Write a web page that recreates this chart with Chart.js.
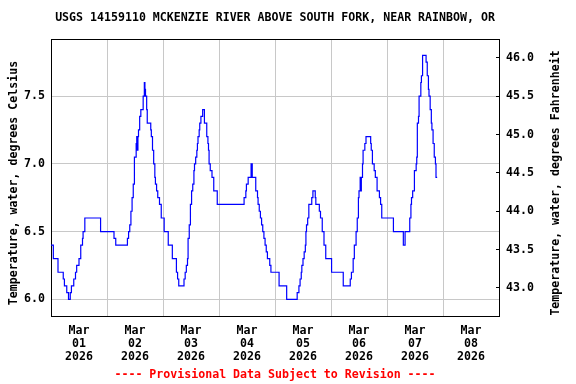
<!DOCTYPE html>
<html lang="en">
<head>
    <meta charset="UTF-8">
    <title>USGS 14159110 water temperature</title>
    <style>
        html, body { margin: 0; padding: 0; background: #fff; }
        canvas { display: block; }
    </style>
</head>
<body>
    <canvas id="temp-chart" width="576" height="384"></canvas>

    <script src="https://cdn.jsdelivr.net/npm/chart.js"></script>
    <script>
        // hours since Mar 01 2026 00:00 where the reading changes, and the new value (deg C)
        const hours = [
            0, 1, 3, 5.25, 5.75, 6.75, 7.5, 8.25, 8.75, 9.75, 10.5, 11, 12, 12.75, 13.5, 13.75, 14.5, 21.25, 27, 27.75,
            32.75, 33.25, 33.75, 34.25, 34.75, 35.25, 35.75, 36.5, 36.75, 37, 37.25, 37.5, 38, 38.5, 39.5, 40, 40.25, 40.5,
            41, 41.25, 42.75, 43, 43.5, 44, 44.5, 44.75, 45.25, 45.75, 46.5, 47.25, 48.5, 50.25, 52, 53.75, 54.25, 54.75,
            57, 57.5, 58, 58.5, 58.75, 59.25, 59.75, 60.25, 60.75, 61.25, 61.5, 62, 62.5, 62.75, 63, 63.5, 63.75, 64.25,
            65, 65.75, 66.75, 67.25, 67.5, 67.75, 68.25, 69, 69.75, 71.25,
            82.75, 83.5, 83.75, 84.5, 85.75, 86.25, 87.75, 88.5, 88.75, 89.25, 89.75, 90.25, 90.75, 91.25, 91.75, 92.25,
            92.75, 93.75, 94.25, 97.75, 101,
            105.5, 106.25, 106.75, 107.25, 107.5, 108, 108.5, 109, 109.25, 109.5, 110, 110.5, 111.75, 112.25, 113.25, 113.5,
            115, 115.5, 116.25, 117, 117.75, 120.25, 125.25,
            128.25, 128.75, 129.5, 130, 130.75, 131.25, 131.75, 132, 132.5, 132.75, 133, 133.5, 133.75, 134.5, 135,
            137, 137.25, 137.75, 138.5, 139, 139.75, 140.75, 141.25, 141.75, 146.75, 151, 151.75,
            153.75, 154.25, 154.5, 155, 155.75, 156.5, 156.75, 157, 157.5, 157.75, 158.5, 158.75, 159.25,
            160.75, 161.25, 161.75, 162, 162.5, 163, 163.25, 163.75, 164.25, 164.75, 165, 165.5
        ];
        const tempC = [
            6.4, 6.3, 6.2, 6.15, 6.1, 6.05, 6.0, 6.05, 6.1, 6.15, 6.2, 6.25, 6.3, 6.4, 6.45, 6.5, 6.6, 6.5, 6.45, 6.4,
            6.45, 6.5, 6.55, 6.65, 6.75, 6.85, 7.05, 7.15, 7.2, 7.1, 7.2, 7.25, 7.35, 7.4, 7.5, 7.6, 7.55, 7.5,
            7.4, 7.3, 7.25, 7.2, 7.1, 7.0, 6.9, 6.85, 6.8, 6.75, 6.7, 6.6, 6.5, 6.4, 6.3, 6.2, 6.15, 6.1,
            6.15, 6.2, 6.25, 6.3, 6.45, 6.55, 6.7, 6.8, 6.85, 6.95, 7.0, 7.05, 7.1, 7.15, 7.2, 7.25, 7.3, 7.35,
            7.4, 7.3, 7.2, 7.15, 7.1, 7.0, 6.95, 6.9, 6.8, 6.7,
            6.75, 6.8, 6.85, 6.9, 7.0, 6.9, 6.8, 6.75, 6.7, 6.65, 6.6, 6.55, 6.5, 6.45, 6.4, 6.35,
            6.3, 6.25, 6.2, 6.1, 6.0,
            6.05, 6.1, 6.15, 6.2, 6.25, 6.3, 6.35, 6.4, 6.5, 6.55, 6.6, 6.7, 6.75, 6.8, 6.75, 6.7,
            6.65, 6.6, 6.5, 6.4, 6.3, 6.2, 6.1,
            6.15, 6.2, 6.3, 6.4, 6.5, 6.6, 6.75, 6.8, 6.9, 6.8, 6.9, 7.0, 7.1, 7.15, 7.2,
            7.15, 7.1, 7.0, 6.95, 6.9, 6.8, 6.75, 6.7, 6.6, 6.5, 6.4, 6.5,
            6.6, 6.7, 6.75, 6.8, 6.95, 7.0, 7.05, 7.3, 7.35, 7.5, 7.6, 7.65, 7.8,
            7.75, 7.65, 7.55, 7.5, 7.4, 7.3, 7.25, 7.15, 7.05, 7.0, 6.9, 6.9
        ];
        const dayLabels = ['01', '02', '03', '04', '05', '06', '07', '08'];
        const monthLabel = 'Mar';
        const yearLabel = '2026';
        const celsiusTicks = [6.0, 6.5, 7.0, 7.5];
        const fahrenheitTicks = [43.0, 43.5, 44.0, 44.5, 45.0, 45.5, 46.0];

        const chartTitle = 'USGS 14159110 MCKENZIE RIVER ABOVE SOUTH FORK, NEAR RAINBOW, OR';
        const footerText = '---- Provisional Data Subject to Revision ----';
        const leftTitle = 'Temperature, water, degrees Celsius';
        const rightTitle = 'Temperature, water, degrees Fahrenheit';

        const FONT = "'DejaVu Sans Mono', monospace";
        const GRID = '#c8c8c8';

        Chart.defaults.font.family = FONT;
        Chart.defaults.font.size = 11.6;
        Chart.defaults.font.weight = 'bold';
        Chart.defaults.color = '#000';

        // top edge of the plot box and the two rotated axis titles (read bottom-to-top)
        const framePlugin = {
            id: 'frame',
            afterDraw(chart) {
                const { ctx, chartArea: a } = chart;
                ctx.save();
                ctx.strokeStyle = '#000';
                ctx.lineWidth = 1;
                ctx.beginPath();
                ctx.moveTo(a.left, Math.floor(a.top) + 0.5);
                ctx.lineTo(a.right + 1, Math.floor(a.top) + 0.5);
                ctx.stroke();

                ctx.font = `bold 11.6px ${FONT}`;
                ctx.fillStyle = '#000';
                ctx.textAlign = 'center';
                ctx.textBaseline = 'middle';
                [[14, leftTitle], [556, rightTitle]].forEach(([x, text]) => {
                    ctx.save();
                    ctx.translate(x, 183);
                    ctx.rotate(-Math.PI / 2);
                    ctx.fillText(text, 0, 0);
                    ctx.restore();
                });
                ctx.restore();
            }
        };

        const ctx = document.getElementById('temp-chart').getContext('2d');
        new Chart(ctx, {
            type: 'line',
            data: {
                datasets: [{
                    data: hours.map((h, i) => ({ x: h, y: tempC[i] })),
                    borderColor: '#0000ff',
                    borderWidth: 1.2,
                    pointRadius: 0,
                    stepped: true,
                    fill: false,
                    yAxisID: 'y',
                }],
            },
            options: {
                responsive: false,
                animation: false,
                layout: { padding: 0 },
                plugins: {
                    legend: { display: false },
                    tooltip: { enabled: false },
                    title: {
                        display: true,
                        text: chartTitle,
                        fullSize: false,
                        color: '#000',
                        font: { size: 11.6, weight: 'bold', lineHeight: '14px' },
                        padding: { top: 11, bottom: 14 },
                    },
                    subtitle: {
                        display: true,
                        position: 'bottom',
                        text: footerText,
                        fullSize: false,
                        color: '#ff0000',
                        font: { size: 11.6, weight: 'bold', lineHeight: '14px' },
                        padding: { top: 0, bottom: 2 },
                    },
                },
                scales: {
                    x: {
                        type: 'linear',
                        min: 0,
                        max: 192,
                        afterFit: (s) => { s.height = 52; },
                        border: { color: '#000', width: 1 },
                        grid: {
                            drawTicks: false,
                            color: (c) => (c.tick && c.tick.value % 24 === 0) ? GRID : 'rgba(0,0,0,0)',
                        },
                        ticks: {
                            stepSize: 12,
                            autoSkip: false,
                            maxRotation: 0,
                            padding: 8,
                            font: { lineHeight: '13px' },
                            callback: (v) => v % 24 === 12
                                ? [monthLabel, dayLabels[Math.floor(v / 24)], yearLabel]
                                : '',
                        },
                    },
                    y: {
                        position: 'left',
                        min: 5.877,
                        max: 7.921,
                        afterFit: (s) => { s.width = 51; },
                        afterBuildTicks: (s) => { s.ticks = celsiusTicks.map(v => ({ value: v })); },
                        border: { color: '#000', width: 1 },
                        grid: { color: GRID, drawTicks: false },
                        ticks: {
                            padding: 6,
                            callback: (v) => Number(v).toFixed(1),
                        },
                    },
                    yF: {
                        position: 'right',
                        min: 42.635,
                        max: 46.245,
                        afterFit: (s) => { s.width = 77; },
                        afterBuildTicks: (s) => { s.ticks = fahrenheitTicks.map(v => ({ value: v })); },
                        border: { color: '#000', width: 1 },
                        grid: {
                            drawOnChartArea: false,
                            drawTicks: true,
                            tickLength: -3,
                            color: '#000',
                        },
                        ticks: {
                            padding: 10,
                            callback: (v) => Number(v).toFixed(1),
                        },
                    },
                },
            },
            plugins: [framePlugin],
        });
    </script>
</body>
</html>
